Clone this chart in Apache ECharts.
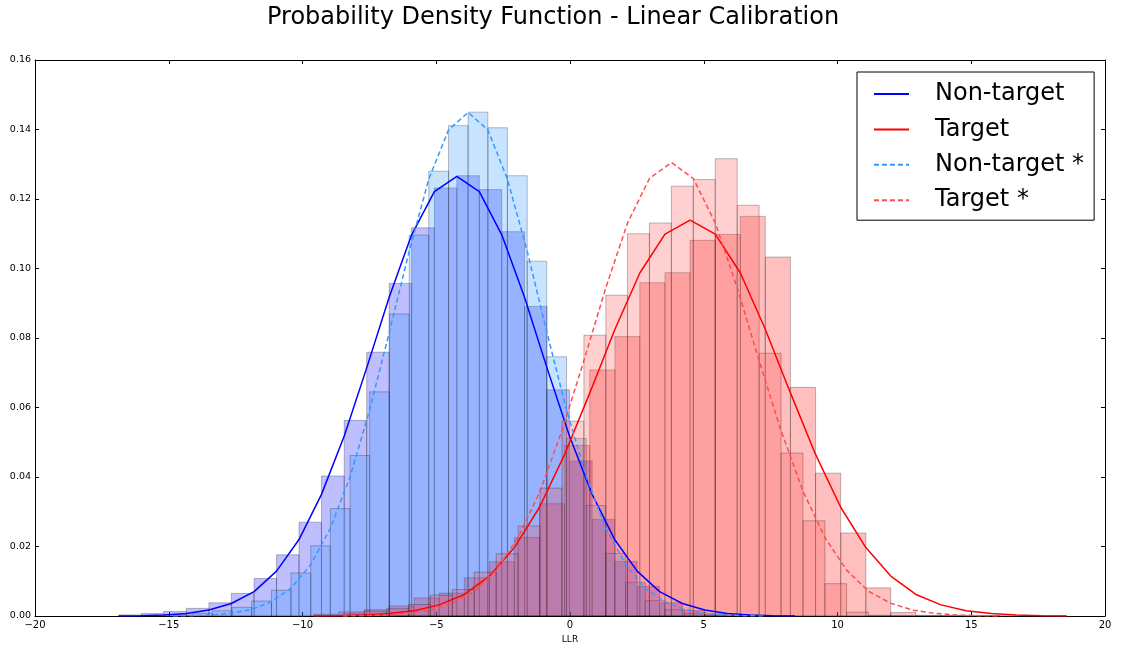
<!DOCTYPE html>
<html><head><meta charset="utf-8">
<script src="https://cdn.jsdelivr.net/npm/echarts/dist/echarts.min.js"></script>
<style>html,body{margin:0;padding:0;background:#fff}#c{width:1121px;height:649px}</style>
</head><body><div id="c"></div>
<script>
// ---- Non-target histogram (bin edges, densities) and curve at the edges ----
const ntEdges = [-16.87,-16.03,-15.19,-14.34,-13.50,-12.66,-11.81,-10.97,-10.13,-9.29,-8.44,-7.60,-6.76,-5.92,-5.07,-4.23,-3.39,-2.55,-1.70,-0.86,-0.02,0.83,1.67,2.51,3.35,4.20,5.04,5.88,6.72,7.57,8.41];
const ntHist = [0.0003,0.0007,0.0013,0.0022,0.0038,0.0065,0.0108,0.0176,0.0270,0.0403,0.0563,0.0759,0.0957,0.1117,0.1232,0.1267,0.1227,0.1106,0.0891,0.0651,0.0446,0.0278,0.0157,0.0085,0.0038,0.0016,0.0006,0.0002,0.0001,0.0001];
const ntLine = [0.0000,0.0001,0.0003,0.0007,0.0017,0.0036,0.0070,0.0129,0.0220,0.0350,0.0518,0.0714,0.0917,0.1097,0.1221,0.1265,0.1221,0.1097,0.0917,0.0714,0.0518,0.0350,0.0220,0.0129,0.0070,0.0036,0.0017,0.0007,0.0003,0.0001,0.0000];

// ---- Non-target * ----
const ntsEdges = [-14.84,-14.10,-13.37,-12.63,-11.90,-11.16,-10.43,-9.69,-8.96,-8.22,-7.49,-6.75,-6.01,-5.28,-4.54,-3.81,-3.07,-2.34,-1.60,-0.87,-0.13,0.61,1.34,2.08,2.81,3.55,4.28,5.02,5.75,6.49,7.22];
const ntsHist = [0.0003,0.0008,0.0015,0.0025,0.0043,0.0074,0.0124,0.0202,0.0309,0.0462,0.0645,0.0869,0.1096,0.1280,0.1411,0.1450,0.1405,0.1267,0.1021,0.0746,0.0511,0.0318,0.0180,0.0097,0.0044,0.0018,0.0007,0.0002,0.0001,0.0001];
const ntsLine = [0.0000,0.0001,0.0003,0.0008,0.0019,0.0041,0.0080,0.0148,0.0252,0.0401,0.0593,0.0818,0.1050,0.1257,0.1399,0.1449,0.1399,0.1257,0.1050,0.0818,0.0593,0.0401,0.0252,0.0148,0.0080,0.0041,0.0019,0.0008,0.0003,0.0001,0.0000];

// ---- Target ----
const tEdges = [-9.58,-8.64,-7.70,-6.77,-5.83,-4.89,-3.95,-3.01,-2.08,-1.14,-0.20,0.74,1.68,2.61,3.55,4.49,5.43,6.37,7.30,8.24,9.18,10.12,11.06,11.99,12.93,13.87,14.81,15.75,16.68,17.62,18.56];
const tHist = [0.0005,0.0012,0.0018,0.0029,0.0052,0.0066,0.0110,0.0156,0.0226,0.0323,0.0491,0.0708,0.0804,0.0959,0.0988,0.1081,0.1098,0.1150,0.1033,0.0658,0.0411,0.0239,0.0081,0.0010,0.0002,0.0001,0.0000,0.0000,0.0000,0.0001];
const tLine = [0.0000,0.0001,0.0003,0.0007,0.0015,0.0032,0.0062,0.0115,0.0197,0.0313,0.0465,0.0642,0.0825,0.0987,0.1099,0.1139,0.1099,0.0987,0.0825,0.0642,0.0465,0.0313,0.0197,0.0115,0.0062,0.0032,0.0015,0.0007,0.0003,0.0001,0.0000];

// ---- Target * ----
const tsEdges = [-8.49,-7.67,-6.85,-6.04,-5.22,-4.40,-3.58,-2.76,-1.94,-1.12,-0.30,0.52,1.34,2.15,2.97,3.79,4.61,5.43,6.25,7.07,7.89,8.71,9.53,10.34,11.16,11.98,12.80,13.62,14.44,15.26,16.08];
const tsHist = [0.0006,0.0014,0.0021,0.0033,0.0060,0.0076,0.0126,0.0179,0.0259,0.0368,0.0561,0.0808,0.0923,0.1100,0.1131,0.1237,0.1256,0.1316,0.1182,0.0756,0.0469,0.0274,0.0093,0.0011,0.0002,0.0001,0.0000,0.0000,0.0000,0.0001];
const tsLine = [0.0000,0.0001,0.0003,0.0008,0.0017,0.0037,0.0071,0.0132,0.0226,0.0359,0.0533,0.0735,0.0945,0.1131,0.1259,0.1305,0.1259,0.1131,0.0945,0.0735,0.0533,0.0359,0.0226,0.0132,0.0071,0.0037,0.0017,0.0008,0.0003,0.0001,0.0000];

const xTicks = [-20,-15,-10,-5,0,5,10,15,20];
const yTicks = [0,0.02,0.04,0.06,0.08,0.10,0.12,0.14,0.16];
const names = ['Non-target','Target','Non-target *','Target *'];

const FONT = 'DejaVu Sans';

function histData(edges, h){ return h.map((v,i)=>[edges[i], edges[i+1], v]); }
function lineData(edges, l){ return edges.map((x,i)=>[x, l[i]]); }
function histRender(fill){
  return function(params, api){
    const x0 = api.value(0), x1 = api.value(1), h = api.value(2);
    const p0 = api.coord([x0, h]);
    const p1 = api.coord([x1, 0]);
    return {type:'rect', shape:{x:p0[0], y:p0[1], width:p1[0]-p0[0], height:p1[1]-p0[1]},
      style:{fill:fill, stroke:'rgba(0,0,0,0.25)', lineWidth:1}};
  };
}
function histSeries(id, edges, h, fill){
  return {type:'custom', id:id, name:id, renderItem:histRender(fill), encode:{x:[0,1], y:2},
    data:histData(edges,h), z:1, silent:true};
}
function lineSeries(name, edges, l, color, dashed){
  return {type:'line', name:name, data:lineData(edges,l), symbol:'none', z:5,
    lineStyle:{color:color, width:1.5, type: dashed ? [5,3] : 'solid'}, itemStyle:{color:color}};
}
const fmtX = v => (v < 0 ? '\u2212' + Math.abs(v) : String(v));
const fmtY = v => v.toFixed(2);

const chart = echarts.init(document.getElementById('c'), null, {renderer:'canvas'});
const axisCommon = {
  axisLine:{show:true, onZero:false, lineStyle:{color:'#000', width:1}},
  axisTick:{show:true, inside:true, length:4, lineStyle:{color:'#000'}},
  splitLine:{show:false}
};
chart.setOption({
  animation:false,
  backgroundColor:'#fff',
  title:{text:'Probability Density Function - Linear Calibration', left:262, top:1,
    textStyle:{fontFamily:FONT, fontSize:24, fontWeight:'normal', color:'#000'}},
  legend:{data:names, orient:'vertical', left:857, top:72, itemWidth:35, itemHeight:14, itemGap:11.4,
    padding:[10,10,8,16], borderColor:'#000', borderWidth:1, backgroundColor:'#fff',
    itemStyle:{opacity:0},
    textStyle:{fontFamily:FONT, fontSize:24, color:'#000', padding:[0,0,0,21]}},
  grid:{left:35, right:16, top:60, bottom:31, containLabel:false},
  xAxis:[
    Object.assign({type:'value', min:xTicks[0], max:xTicks[xTicks.length-1], interval:5, position:'bottom',
      name:'LLR', nameLocation:'middle', nameGap:19, nameTextStyle:{fontFamily:FONT, fontSize:9, color:'#000'},
      axisLabel:{formatter:fmtX, fontFamily:FONT, fontSize:10, color:'#000', margin:4}}, axisCommon),
    Object.assign({type:'value', min:xTicks[0], max:xTicks[xTicks.length-1], interval:5, position:'top',
      axisLabel:{show:false}}, axisCommon)
  ],
  yAxis:[
    Object.assign({type:'value', min:yTicks[0], max:yTicks[yTicks.length-1], interval:0.02, position:'left',
      axisLabel:{formatter:fmtY, fontFamily:FONT, fontSize:9.5, color:'#000', margin:4}}, axisCommon),
    Object.assign({type:'value', min:yTicks[0], max:yTicks[yTicks.length-1], interval:0.02, position:'right',
      axisLabel:{show:false}}, axisCommon)
  ],
  series:[
    histSeries('h_nt', ntEdges, ntHist, 'rgba(0,0,255,0.25)'),
    histSeries('h_t', tEdges, tHist, 'rgba(255,0,0,0.25)'),
    histSeries('h_nts', ntsEdges, ntsHist, 'rgba(30,144,255,0.25)'),
    histSeries('h_ts', tsEdges, tsHist, 'rgba(255,68,68,0.25)'),
    lineSeries(names[0], ntEdges, ntLine, '#0000ff', false),
    lineSeries(names[1], tEdges, tLine, '#ff0000', false),
    lineSeries(names[2], ntsEdges, ntsLine, '#3399ff', true),
    lineSeries(names[3], tsEdges, tsLine, '#ff4d4d', true)
  ]
});
</script></body></html>
